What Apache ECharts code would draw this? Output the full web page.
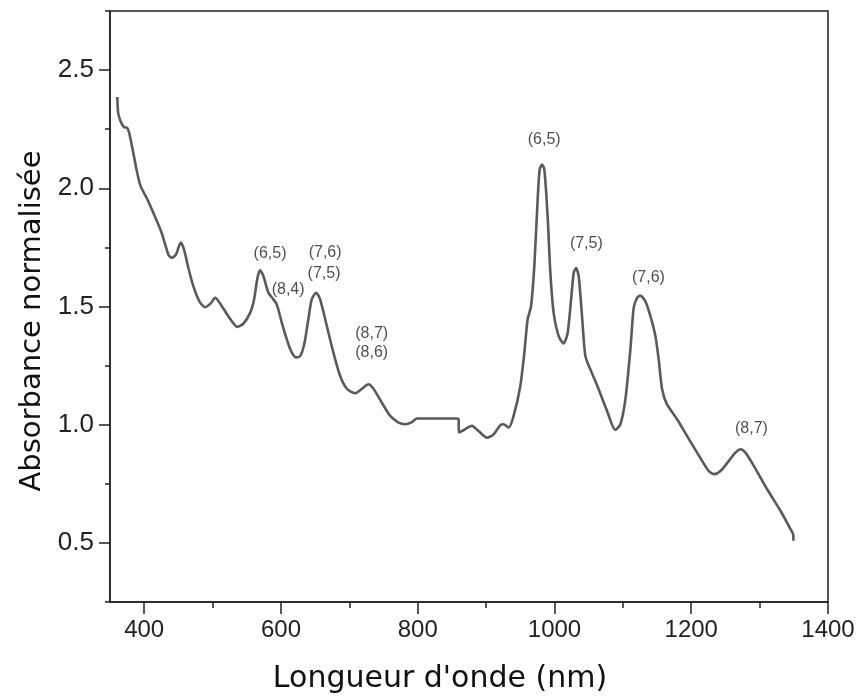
<!DOCTYPE html>
<html>
<head>
<meta charset="utf-8">
<script src="https://cdn.jsdelivr.net/npm/echarts@6/dist/echarts.min.js"></script>
<style>
html,body{margin:0;padding:0;background:#fff;}
#chart{width:859px;height:699px;}
</style>
</head>
<body>
<div id="chart"></div>
<script>
// Spectrum (wavelength nm, normalized absorbance)
var wavelength = [360.7,362,365.6,370.5,375.3,378.2,384.1,389.9,394.9,403.7,413.4,425.6,435.3,440.3,446.6,453.5,458.3,464.6,471.9,480.7,489,497.3,503.7,511,523.1,536.3,545.1,554.9,560.7,565.6,569.5,574.4,581.7,589,594,601.3,608.6,615,622,628,634,640,645,651.5,657.3,667.1,676.8,686.6,696.4,708.6,718.4,728,735.3,747.6,759.8,772,781.7,791.5,798.8,830,857.4,859.8,860.2,864.6,879.3,889,901.3,911,920.8,925.6,933,940.2,950,955.9,960.7,965.7,970.5,975.4,978.3,981.8,985.2,990,994,998.8,1006.1,1013.4,1019.3,1024.3,1028.1,1031.6,1035.4,1040.3,1045.2,1052.5,1064.6,1076.9,1089,1096.4,1103.7,1111,1115.9,1120.8,1125.6,1132.9,1140.3,1147.6,1152.4,1157.4,1164.2,1179.3,1194,1208.6,1225.6,1234,1242.8,1255,1264.7,1272,1279.3,1291.5,1311,1330.5,1345.2,1349,1349.5];
var absorbance = [2.386,2.318,2.283,2.259,2.255,2.233,2.149,2.064,2.008,1.959,1.896,1.811,1.720,1.706,1.720,1.771,1.741,1.663,1.586,1.522,1.497,1.513,1.537,1.513,1.459,1.414,1.428,1.473,1.530,1.621,1.653,1.628,1.558,1.530,1.508,1.431,1.361,1.310,1.285,1.290,1.340,1.445,1.530,1.558,1.530,1.417,1.304,1.206,1.152,1.133,1.152,1.171,1.152,1.093,1.037,1.009,1.002,1.011,1.026,1.026,1.026,1.023,0.967,0.973,0.995,0.973,0.945,0.959,0.998,1.002,0.988,1.037,1.163,1.304,1.445,1.501,1.670,1.952,2.079,2.100,2.079,1.881,1.642,1.473,1.375,1.344,1.389,1.530,1.642,1.663,1.628,1.459,1.290,1.234,1.150,1.058,0.978,1.002,1.107,1.318,1.495,1.537,1.546,1.522,1.459,1.375,1.276,1.150,1.088,1.023,0.952,0.882,0.804,0.791,0.804,0.847,0.882,0.896,0.882,0.826,0.727,0.636,0.558,0.537,0.509];

// Peak annotations (chirality indices)
var annotText = ['(6,5)','(8,4)','(7,6)','(7,5)','(8,7)','(8,6)','(6,5)','(7,5)','(7,6)','(8,7)'];
var annotX = [584,610.5,664.6,663,732.7,732.7,985,1046.6,1137.4,1288];
var annotY = [1.722,1.572,1.728,1.639,1.386,1.306,2.207,1.766,1.622,0.983];

// Axis ticks
var xMajorTicks = [400,600,800,1000,1200,1400];
var xMinorTicks = [500,700,900,1100,1300];
var yMajorTicks = [0.5,1.0,1.5,2.0,2.5];
var yMinorTicks = [0.25,0.75,1.25,1.75,2.25,2.75];

var xTitle = "Longueur d'onde (nm)";
var yTitle = "Absorbance normalisée";

var lineData = wavelength.map(function(w,i){ return [w, absorbance[i]]; });
var annotData = annotText.map(function(t,i){ return [annotX[i], annotY[i], t]; });

var axisCol = '#222';
var chart = echarts.init(document.getElementById('chart'), null, {renderer:'canvas'});
chart.setOption({
  animation:false,
  backgroundColor:'#fff',
  grid:{left:110,right:31,top:11,bottom:96,show:true,borderColor:axisCol,borderWidth:1.5,backgroundColor:'transparent'},
  xAxis:[{
    type:'value',min:350,max:1400,
    name:xTitle,nameLocation:'middle',nameGap:62,
    nameTextStyle:{fontFamily:'DejaVu Sans',fontSize:30,color:'#111',padding:[0,58,0,0]},
    axisLine:{show:true,onZero:false,lineStyle:{color:axisCol,width:1.5}},
    axisTick:{show:true,customValues:xMajorTicks,length:12,lineStyle:{color:axisCol,width:1.5}},
    axisLabel:{customValues:xMajorTicks,margin:16,fontFamily:'Liberation Sans',fontSize:24,color:'#222',showMaxLabel:true,
      formatter:function(v){return String(v);}},
    splitLine:{show:false}
  },{
    type:'value',min:350,max:1400,position:'bottom',
    axisLine:{show:false},
    axisTick:{show:true,customValues:xMinorTicks,length:6,lineStyle:{color:axisCol,width:1.5}},
    axisLabel:{show:false},
    splitLine:{show:false}
  }],
  yAxis:[{
    type:'value',min:0.25,max:2.75,
    name:yTitle,nameLocation:'middle',nameGap:62,nameRotate:90,
    nameTextStyle:{fontFamily:'DejaVu Sans',fontSize:29,color:'#111',padding:[0,29,0,0]},
    axisLine:{show:true,onZero:false,lineStyle:{color:axisCol,width:1.5}},
    axisTick:{show:true,customValues:yMajorTicks,length:11,lineStyle:{color:axisCol,width:1.5}},
    axisLabel:{customValues:yMajorTicks,margin:16,fontFamily:'Liberation Sans',fontSize:26,color:'#222',
      formatter:function(v){return v.toFixed(1);}},
    splitLine:{show:false}
  },{
    type:'value',min:0.25,max:2.75,position:'left',
    axisLine:{show:false},
    axisTick:{show:true,customValues:yMinorTicks,length:5,lineStyle:{color:axisCol,width:1.5}},
    axisLabel:{show:false},
    splitLine:{show:false}
  }],
  series:[{
    type:'line',xAxisIndex:0,yAxisIndex:0,
    data:lineData,showSymbol:false,symbol:'none',smooth:0.25,
    lineStyle:{color:'#5a5a5a',width:2.6},
    z:3
  },{
    type:'scatter',xAxisIndex:0,yAxisIndex:0,
    data:annotData,symbolSize:0,
    label:{show:true,position:'inside',formatter:function(p){return p.data[2];},
      fontFamily:'Liberation Sans',fontSize:16,color:'#222'},
    z:4
  }]
});
</script>
</body>
</html>
